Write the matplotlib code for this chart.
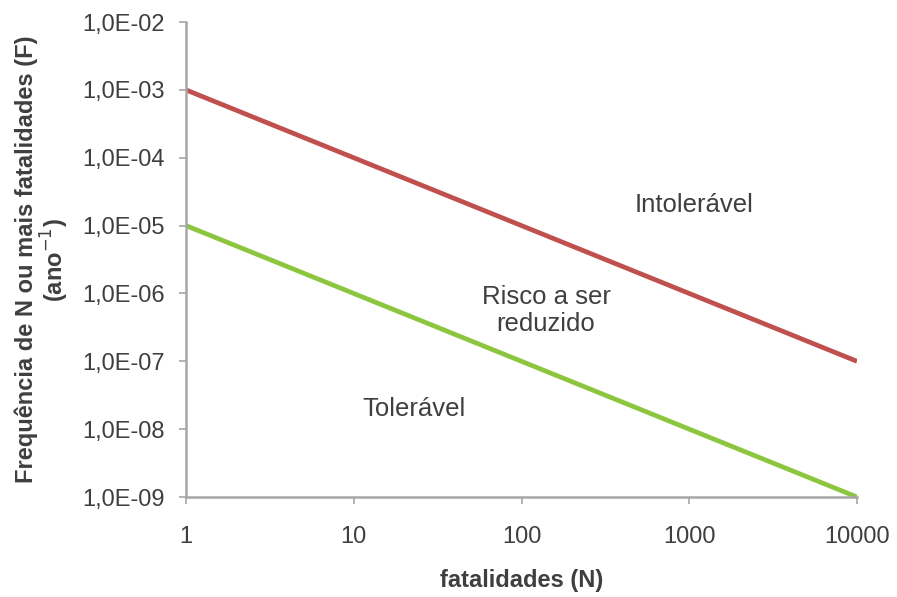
import numpy as np
import matplotlib.pyplot as plt
from matplotlib.ticker import FixedLocator, FuncFormatter

plt.rcParams['font.family'] = ['Liberation Sans', 'DejaVu Sans']

# dados do diagrama F-N
n_pts = [1, 10000]
f_intoleravel = [1e-3, 1e-7]
f_toleravel = [1e-5, 1e-9]

x_ticks = [1, 10, 100, 1000, 10000]
y_ticks = [1e-9, 1e-8, 1e-7, 1e-6, 1e-5, 1e-4, 1e-3, 1e-2]

regioes = [
    ("Intolerável", 1070, 2.0e-5),
    ("Risco a ser\nreduzido", 140, 5.6e-7),
    ("Tolerável", 23, 2.0e-8),
]

txt_color = "#3f3f3f"
spine_color = "#a6a6a6"

fig = plt.figure(figsize=(8.97, 5.97), dpi=100)
ax = fig.add_axes([0.2074, 0.1675, 0.748, 0.7955])

ax.plot(n_pts, f_intoleravel, color="#c0504d", lw=3.4, solid_capstyle="butt")
ax.plot(n_pts, f_toleravel, color="#8cc63f", lw=3.4, solid_capstyle="butt")

ax.set_xscale("log")
ax.set_yscale("log")
ax.set_xlim(1, 10000)
ax.set_ylim(1e-9, 1e-2)

ax.xaxis.set_major_locator(FixedLocator(x_ticks))
ax.yaxis.set_major_locator(FixedLocator(y_ticks))
ax.xaxis.set_minor_locator(FixedLocator([]))
ax.yaxis.set_minor_locator(FixedLocator([]))
ax.xaxis.set_major_formatter(FuncFormatter(lambda v, p: f"{v:.0f}"))
ax.yaxis.set_major_formatter(
    FuncFormatter(lambda v, p: f"{v:.1E}".replace(".", ",")))

for s in ["top", "right"]:
    ax.spines[s].set_visible(False)
for s in ["left", "bottom"]:
    ax.spines[s].set_color(spine_color)
    ax.spines[s].set_linewidth(1.8)

ax.tick_params(axis="both", direction="out", length=5, width=1.2,
               color=spine_color, labelcolor=txt_color, labelsize=17)
ax.tick_params(axis="x", pad=16)
ax.tick_params(axis="y", pad=10)

for texto, x, y in regioes:
    ax.text(x, y, texto, ha="center", va="center", fontsize=18.5,
            color=txt_color, linespacing=1.2)

ax.set_xlabel("fatalidades (N)", fontsize=17, fontweight="bold",
              color=txt_color, labelpad=15)
ax.set_ylabel("Frequência de N ou mais fatalidades (F)\n(ano$^{-1}$)",
              fontsize=17, fontweight="bold", color=txt_color,
              labelpad=8, linespacing=1.05)

fig.savefig("out.png", dpi=100)
